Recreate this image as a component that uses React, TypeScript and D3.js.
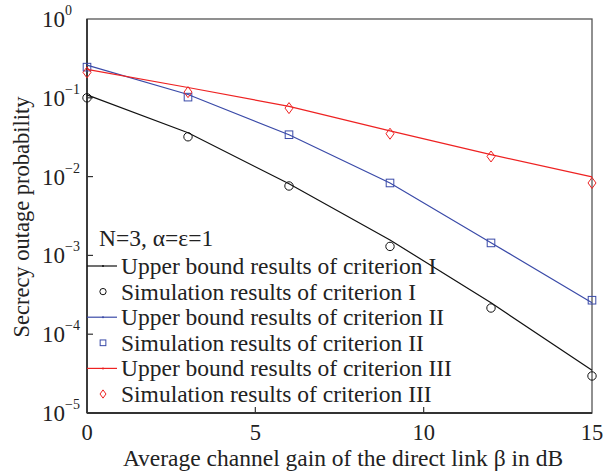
import React from "react";
import * as d3 from "d3";

const beta = [0, 3, 6, 9, 12, 15];
const boundI = [0.109, 0.036, 0.0081, 0.00157, 0.00025, 0.000035];
const simI = [0.1, 0.032, 0.0076, 0.0013, 0.000215, 0.0000295];
const boundII = [0.26, 0.11, 0.034, 0.0083, 0.00145, 0.00025];
const simII = [0.245, 0.102, 0.034, 0.0083, 0.00144, 0.00027];
const boundIII = [0.23, 0.135, 0.078, 0.038, 0.019, 0.0099];
const simIII = [0.21, 0.118, 0.074, 0.035, 0.018, 0.0083];
const xTicks = [0, 5, 10, 15];
const yExps = [0, -1, -2, -3, -4, -5];
const legendLabels = [
  "Upper bound results of criterion I",
  "Simulation results of criterion I",
  "Upper bound results of criterion II",
  "Simulation results of criterion II",
  "Upper bound results of criterion III",
  "Simulation results of criterion III",
];

const W = 604, H = 472;
const m = { left: 87, right: 592, top: 19, bottom: 413 };
const font = "'Liberation Serif', 'Times New Roman', serif";

const x = d3.scaleLinear().domain([0, 15]).range([m.left, m.right]);
const y = d3.scaleLog().domain([1e-5, 1]).range([m.bottom, m.top]);

const colI = "#111111", colII = "#3a4aa8", colIII = "#ee2222";

function marker(kind: string, cx: number, cy: number, color: string, key: string, sc = 1) {
  if (kind === "circle") return <circle key={key} cx={cx} cy={cy} r={4.2 * sc} fill="none" stroke={color} strokeWidth={1} />;
  if (kind === "square") return <rect key={key} x={cx - 3.8 * sc} y={cy - 3.8 * sc} width={7.6 * sc} height={7.6 * sc} fill="none" stroke={color} strokeWidth={1} />;
  return <path key={key} d={`M${cx},${cy - 5.5 * sc}L${cx + 4 * sc},${cy}L${cx},${cy + 5.5 * sc}L${cx - 4 * sc},${cy}Z`} fill="none" stroke={color} strokeWidth={1} />;
}

export default function App() {
  const line = d3.line<number>().x((_, i) => x(beta[i])).y((d) => y(d));
  const series = [
    { bound: boundI, sim: simI, color: colI, kind: "circle" },
    { bound: boundII, sim: simII, color: colII, kind: "square" },
    { bound: boundIII, sim: simIII, color: colIII, kind: "diamond" },
  ];
  const legY0 = 266, legStep = 25.6;
  return (
    <svg width={W} height={H} style={{ position: "absolute", left: 0, top: 0, background: "#fff" }} fontFamily={font}>
      <rect x={0} y={0} width={W} height={H} fill="#fff" />
      {/* frame */}
      <rect x={m.left} y={m.top} width={m.right - m.left} height={m.bottom - m.top} fill="none" stroke="#555" strokeWidth={1.3} />
      <line x1={m.left} x2={m.left} y1={m.top} y2={m.bottom} stroke="#333" strokeWidth={1.8} />
      <line x1={m.left} x2={m.right} y1={m.bottom} y2={m.bottom} stroke="#333" strokeWidth={1.8} />
      {/* x ticks */}
      {xTicks.map((t) => (
        <g key={"xt" + t}>
          {t > 0 && t < 15 && <line x1={x(t)} x2={x(t)} y1={m.bottom} y2={m.bottom - 6} stroke="#333" strokeWidth={1.2} />}
          <text x={x(t)} y={440} textAnchor="middle" fontSize={22.5} fill="#222">{t}</text>
        </g>
      ))}
      {/* y ticks */}
      {yExps.map((e) => (
        <g key={"yt" + e}>
          {e > -5 && e < 0 && <line x1={m.left} x2={m.left + 6} y1={y(Math.pow(10, e))} y2={y(Math.pow(10, e))} stroke="#333" strokeWidth={1.2} />}
          <text x={65} y={y(Math.pow(10, e)) + 8} textAnchor="end" fontSize={23} fill="#222">10</text>
          <text x={65} y={y(Math.pow(10, e)) - 4} textAnchor="start" fontSize={14} fill="#222">{e === 0 ? "0" : "\u2212" + -e}</text>
        </g>
      ))}
      {/* series */}
      {series.map((s, si) => (
        <g key={"s" + si}>
          <path d={line(s.bound) || ""} fill="none" stroke={s.color} strokeWidth={1.2} />
          {s.sim.map((v, i) => marker(s.kind, x(beta[i]), y(v), s.color, `m${si}-${i}`))}
        </g>
      ))}
      {/* legend */}
      <text x={99} y={246} fontSize={23.5} fill="#222">N=3, α=ε=1</text>
      {legendLabels.map((lab, i) => {
        const s = series[Math.floor(i / 2)];
        const cy = legY0 + i * legStep;
        return (
          <g key={"l" + i}>
            {i % 2 === 0 ? (
              <g>
                <line x1={m.left} x2={117} y1={cy} y2={cy} stroke={s.color} strokeWidth={1.2} />
                <circle cx={103} cy={cy} r={1} fill={s.color} />
              </g>
            ) : (
              marker(s.kind, 103, cy, s.color, "lm" + i, 0.75)
            )}
            <text x={121} y={cy + 8} fontSize={23.5} fill="#222">{lab}</text>
          </g>
        );
      })}
      {/* axis titles */}
      <text x={343} y={466} textAnchor="middle" fontSize={23.5} fill="#222">Average channel gain of the direct link β in dB</text>
      <text transform={`translate(29,217) rotate(-90)`} textAnchor="middle" fontSize={22.5} fill="#222">Secrecy outage probability</text>
    </svg>
  );
}
